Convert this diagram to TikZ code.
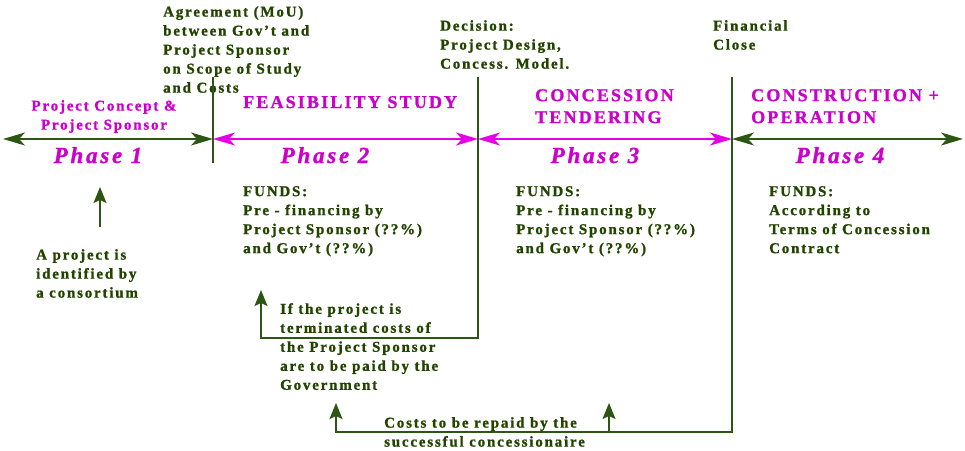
\documentclass[tikz,border=0pt]{standalone}
\usepackage{fontspec}
\setmainfont{Liberation Serif}[LetterSpace=12, BoldFeatures={FakeBold=1.2}, BoldItalicFeatures={FakeBold=1.2}]
\usetikzlibrary{arrows.meta}
\definecolor{ppgreen}{RGB}{34,68,0}
\definecolor{ppline}{RGB}{45,85,20}
\definecolor{ppmagenta}{RGB}{204,0,204}
\definecolor{pparrow}{RGB}{230,0,230}

\begin{document}
\begin{tikzpicture}[
    x=1pt, y=-1pt,
    note/.style={anchor=north west, inner sep=0pt, align=left, text=ppgreen, font=\bfseries\fontsize{15}{19}\selectfont},
    title/.style={anchor=north west, inner sep=0pt, align=left, text=ppmagenta, font=\bfseries\fontsize{18}{22}\selectfont},
    phase/.style={anchor=base, inner sep=0pt, text=ppmagenta, font=\bfseries\itshape\fontsize{23}{26}\selectfont},
    span/.style={{Stealth[length=22pt,width=13pt,inset=6pt]}-{Stealth[length=22pt,width=13pt,inset=6pt]}, line width=1.6pt},
    arrow/.style={-{Stealth[length=16pt,width=13pt,inset=3pt]}, line width=1.6pt, ppline}
]
    \useasboundingbox (0,0) rectangle (965,450);

    % Timeline points
    \coordinate (start) at (3,139);
    \coordinate (m1) at (213,139);
    \coordinate (m2) at (478,139);
    \coordinate (m3) at (732,139);
    \coordinate (end) at (963,139);
    \coordinate (m1top) at (213,77);
    \coordinate (m1bot) at (213,163);
    \coordinate (m2top) at (478,77);
    \coordinate (m2bot) at (478,338);
    \coordinate (m3top) at (732,77);
    \coordinate (m3bot) at (732,432);
    \coordinate (idfoot) at (100,227);
    \coordinate (idtip) at (100,187);
    \coordinate (ret2) at (261,290);
    \coordinate (ret3) at (336,403);
    \coordinate (rep) at (609,403);

    % Nodes
    \node[note] (agreement) at (163,6) {Agreement (MoU)\\between Gov’t and\\Project Sponsor\\on Scope of Study\\and Costs};
    \node[note] (decision) at (440,20) {Decision:\\Project Design,\\Concess. Model.};
    \node[note] (finclose) at (713,20) {Financial\\Close};

    \node[note, anchor=north, align=center, text=ppmagenta] (concept) at (104,100) {Project Concept \&\\Project Sponsor};
    \node[title, anchor=base west] (feas) at (243,108) {FEASIBILITY STUDY};
    \node[title] (tender) at (535,89) {CONCESSION\\TENDERING};
    \node[title] (constr) at (751,89) {CONSTRUCTION +\\OPERATION};

    \node[phase] (phase1) at (98,163) {Phase 1};
    \node[phase] (phase2) at (325,163) {Phase 2};
    \node[phase] (phase3) at (595,163) {Phase 3};
    \node[phase] (phase4) at (840,163) {Phase 4};

    \node[note] (funds2) at (243,186) {FUNDS:\\Pre - financing by\\Project Sponsor (??\%)\\and Gov’t (??\%)};
    \node[note] (funds3) at (516,186) {FUNDS:\\Pre - financing by\\Project Sponsor (??\%)\\and Gov’t (??\%)};
    \node[note] (funds4) at (769,186) {FUNDS:\\According to\\Terms of Concession\\Contract};

    \node[note] (identified) at (36,249) {A project is\\identified by\\a consortium};
    \node[note] (terminated) at (280,303) {If the project is\\terminated costs of\\the Project Sponsor\\are to be paid by the\\Government};
    \node[note] (repaid) at (384,417) {Costs to be repaid by the\\successful concessionaire};

    % Arrows
    \draw[span, ppline] (start) -- (m1);
    \draw[span, pparrow] (m1) -- (m2);
    \draw[span, pparrow] (m2) -- (m3);
    \draw[span, ppline] (m3) -- (end);
    \draw[ppline, line width=1.6pt] (m1top) -- (m1bot);
    \draw[arrow] (m2top) -- (m2bot) -| (ret2);
    \draw[arrow] (m3top) -- (m3bot) -| (ret3);
    \draw[arrow] (rep |- m3bot) -- (rep);
    \draw[arrow] (idfoot) -- (idtip);
\end{tikzpicture}
\end{document}
